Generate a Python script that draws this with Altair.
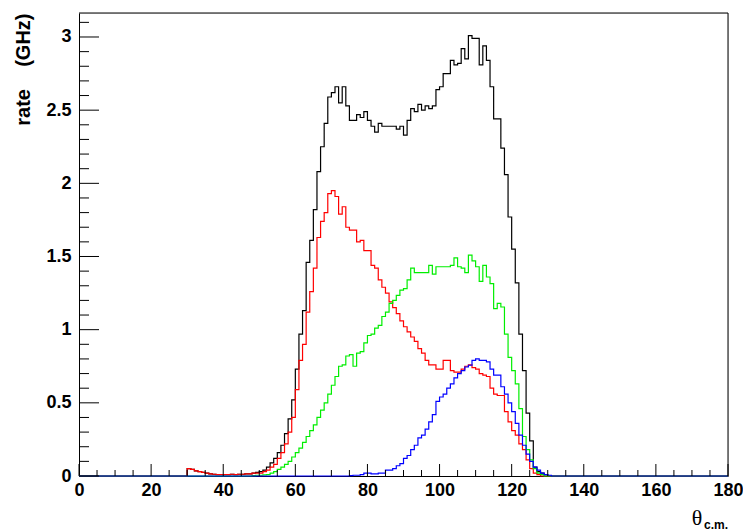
import altair as alt
import pandas as pd

# ---- data (bin width 1 degree, values in GHz) ----
N_BINS = 180

BLACK_START = 30
BLACK = [0.05, 0.045, 0.035, 0.03, 0.025, 0.02, 0.015, 0.012, 0.01, 0.01,
         0.01, 0.01, 0.012, 0.01, 0.012, 0.012, 0.015, 0.015, 0.02, 0.025,
         0.03, 0.04, 0.06, 0.09, 0.12, 0.16, 0.21, 0.29, 0.39, 0.52,
         0.73, 0.97, 1.13, 1.46, 1.61, 1.82, 2.08, 2.25, 2.41, 2.59,
         2.62, 2.66, 2.55, 2.66, 2.53, 2.43, 2.43, 2.47, 2.45, 2.49,
         2.43, 2.39, 2.35, 2.41, 2.39, 2.39, 2.39, 2.39, 2.37, 2.39,
         2.33, 2.43, 2.51, 2.49, 2.54, 2.50, 2.53, 2.51, 2.53, 2.64,
         2.66, 2.75, 2.75, 2.84, 2.81, 2.82, 2.92, 2.85, 3.01, 2.99,
         2.99, 2.81, 2.94, 2.84, 2.66, 2.44, 2.44, 2.24, 2.06, 1.77,
         1.55, 1.32, 0.97, 0.72, 0.43, 0.24, 0.06, 0.03, 0.02, 0.01]

RED_START = 30
RED = [0.05, 0.045, 0.035, 0.03, 0.025, 0.02, 0.015, 0.012, 0.01, 0.01,
       0.01, 0.01, 0.012, 0.01, 0.012, 0.012, 0.015, 0.015, 0.02, 0.02,
       0.02, 0.03, 0.04, 0.06, 0.08, 0.12, 0.16, 0.22, 0.30, 0.40,
       0.59, 0.79, 0.90, 1.12, 1.26, 1.42, 1.63, 1.74, 1.80, 1.93,
       1.95, 1.91, 1.79, 1.84, 1.70, 1.68, 1.68, 1.60, 1.61, 1.54,
       1.54, 1.44, 1.42, 1.34, 1.29, 1.25, 1.19, 1.15, 1.11, 1.06,
       1.02, 0.985, 0.95, 0.92, 0.87, 0.84, 0.79, 0.76, 0.76, 0.73,
       0.73, 0.79, 0.79, 0.72, 0.71, 0.71, 0.73, 0.75, 0.76, 0.74,
       0.73, 0.70, 0.69, 0.68, 0.60, 0.56, 0.55, 0.55, 0.44, 0.37,
       0.31, 0.28, 0.22, 0.18, 0.11, 0.05, 0.02, 0.01]

GREEN_START = 48
GREEN = [0.003, 0.005, 0.005, 0.008, 0.01, 0.02, 0.03, 0.045, 0.06, 0.08,
         0.10, 0.13, 0.16, 0.19, 0.23, 0.27, 0.31, 0.35, 0.40, 0.45,
         0.50, 0.56, 0.62, 0.68, 0.75, 0.76, 0.82, 0.83, 0.75, 0.84,
         0.85, 0.91, 0.96, 0.97, 1.01, 1.03, 1.09, 1.12, 1.18, 1.20,
         1.235, 1.27, 1.28, 1.34, 1.42, 1.39, 1.39, 1.39, 1.39, 1.44,
         1.38, 1.43, 1.43, 1.43, 1.43, 1.44, 1.49, 1.43, 1.42, 1.39,
         1.51, 1.47, 1.43, 1.33, 1.44, 1.36, 1.315, 1.144, 1.18, 1.155,
         0.97, 0.81, 0.72, 0.63, 0.46, 0.27, 0.18, 0.11, 0.05, 0.02, 0.01]

BLUE_START = 75
BLUE = [0.003, 0.005, 0.005, 0.01, 0.02, 0.02, 0.015, 0.015, 0.02, 0.02,
        0.04, 0.04, 0.05, 0.07, 0.085, 0.12, 0.14, 0.18, 0.21, 0.26,
        0.28, 0.32, 0.37, 0.42, 0.51, 0.54, 0.56, 0.60, 0.63, 0.67,
        0.70, 0.72, 0.745, 0.757, 0.79, 0.80, 0.79, 0.79, 0.78, 0.73,
        0.69, 0.69, 0.61, 0.56, 0.50, 0.44, 0.36, 0.28, 0.21, 0.15,
        0.10, 0.06, 0.04, 0.02, 0.01, 0.005]

X_MAJOR = [0, 20, 40, 60, 80, 100, 120, 140, 160, 180]
X_MINOR = [v for v in range(0, 181, 5) if v % 20 != 0]
Y_MAJOR = [0, 0.5, 1, 1.5, 2, 2.5, 3]
Y_MINOR = [round(i * 0.1, 1) for i in range(0, 32) if i % 5 != 0]

SERIES = [("black", BLACK_START, BLACK, "#000000"),
          ("red", RED_START, RED, "#ff0000"),
          ("green", GREEN_START, GREEN, "#00ee00"),
          ("blue", BLUE_START, BLUE, "#0000ff")]

W, H = 649, 463
Y_MAX = 3.164

xscale = alt.Scale(domain=[0, 180], nice=False, zero=False)
yscale = alt.Scale(domain=[0, Y_MAX], nice=False)

FONT = "Liberation Sans"

XAXIS = alt.Axis(
    values=X_MAJOR, ticks=False, grid=False, domain=True,
    domainColor="black", domainWidth=1, labelFont=FONT, labelFontSize=18,
    labelFontWeight="bold", labelColor="black", labelPadding=5,
    labelFlush=False, title=None, zindex=0)
YAXIS = alt.Axis(
    values=Y_MAJOR, format="~g", ticks=False, grid=False, domain=True,
    domainColor="black", domainWidth=1, labelFont=FONT, labelFontSize=18,
    labelFontWeight="bold", labelColor="black", labelPadding=8,
    labelFlush=False,
    title="rate\u00a0\u00a0\u00a0\u00a0(GHz)", titleFont=FONT,
    titleFontSize=20, titleFontWeight="bold", titleColor="black",
    titleAngle=270, titleAlign="right", titleBaseline="middle",
    titleX=-56, titleY=0, zindex=0)


def hist_frame(start, vals):
    full = [0.0] * N_BINS
    for i, v in enumerate(vals):
        full[start + i] = v
    edges = list(range(N_BINS + 1))
    return pd.DataFrame({"x": edges, "y": full + [full[-1]]})


layers = []
for name, start, vals, col in SERIES:
    df = hist_frame(start, vals)
    layers.append(
        alt.Chart(df).mark_line(interpolate="step-after", color=col,
                                strokeWidth=1.2)
        .encode(x=alt.X("x:Q", scale=xscale, axis=XAXIS),
                y=alt.Y("y:Q", scale=yscale, axis=YAXIS))
    )

# frame top/right
frame_top = alt.Chart(pd.DataFrame({"v": [0]})).mark_rule(color="black", strokeWidth=1).encode(
    x=alt.value(0), x2=alt.value(W), y=alt.value(0))
frame_right = alt.Chart(pd.DataFrame({"v": [0]})).mark_rule(color="black", strokeWidth=1).encode(
    x=alt.value(W), y=alt.value(0), y2=alt.value(H))

# inside tick marks
xmaj = alt.Chart(pd.DataFrame({"v": X_MAJOR})).mark_rule(color="black", strokeWidth=1).encode(
    x=alt.X("v:Q", scale=xscale, axis=XAXIS), y=alt.value(H), y2=alt.value(H - 12))
xmin = alt.Chart(pd.DataFrame({"v": X_MINOR})).mark_rule(color="black", strokeWidth=1).encode(
    x=alt.X("v:Q", scale=xscale, axis=XAXIS), y=alt.value(H), y2=alt.value(H - 6))
ymaj = alt.Chart(pd.DataFrame({"v": Y_MAJOR})).mark_rule(color="black", strokeWidth=1).encode(
    y=alt.Y("v:Q", scale=yscale, axis=YAXIS), x=alt.value(0), x2=alt.value(20))
ymin = alt.Chart(pd.DataFrame({"v": Y_MINOR})).mark_rule(color="black", strokeWidth=1).encode(
    y=alt.Y("v:Q", scale=yscale, axis=YAXIS), x=alt.value(0), x2=alt.value(10))

theta = alt.Chart(pd.DataFrame({"t": ["θ"]})).mark_text(
    font="Liberation Serif", fontSize=22, align="center", baseline="alphabetic",
    color="black").encode(x=alt.value(618), y=alt.value(512), text="t:N")
sub = alt.Chart(pd.DataFrame({"t": ["c.m."]})).mark_text(
    font=FONT, fontSize=12, fontWeight="bold", align="left", baseline="alphabetic",
    color="black").encode(x=alt.value(625), y=alt.value(516), text="t:N")

chart = alt.layer(*layers, xmin, xmaj, ymin, ymaj, frame_top, frame_right,
                  theta, sub).properties(
    width=W, height=H,
    padding={"left": 71, "top": 5, "right": 15, "bottom": 55},
    autosize=alt.AutoSizeParams(type="none"),
).configure_view(strokeWidth=0).configure(background="white")

chart.save("out.html", embed_options={"renderer": "svg", "actions": False})
